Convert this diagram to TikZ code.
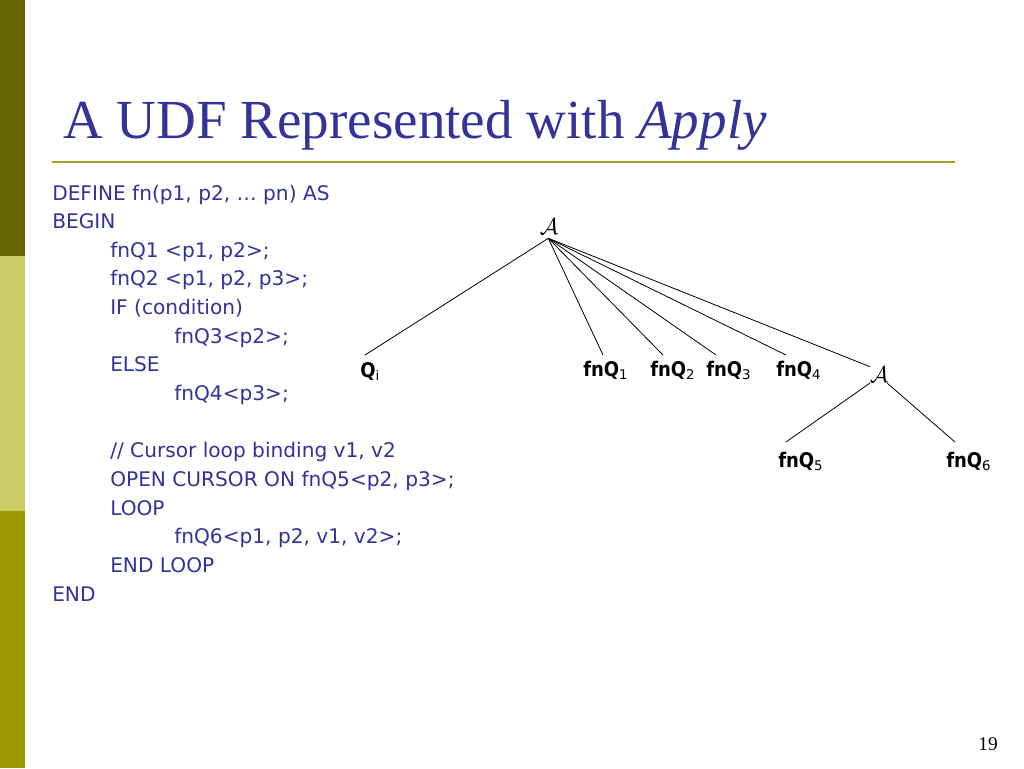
\documentclass[tikz,border=0pt]{standalone}
\usepackage{fontspec}
\usepackage{graphicx}
\setmainfont{Liberation Serif}
\newfontfamily\bodyfont{DejaVu Sans}
\definecolor{bartop}{HTML}{666600}
\definecolor{barmid}{HTML}{CCCC66}
\definecolor{barbot}{HTML}{999900}
\definecolor{rulecol}{HTML}{A0A030}
\definecolor{textblue}{HTML}{333399}
\newcommand{\lsub}[1]{\raisebox{-2.5pt}{\fontsize{10}{12}\selectfont\mdseries #1}}
\newcommand{\labtext}[1]{\scalebox{1}[1.12]{#1}}
\tikzset{
  codeline/.style={anchor=base west, inner sep=0pt, text=textblue, font=\bodyfont\fontsize{15.1}{18}\selectfont},
  lab/.style={anchor=base west, inner sep=0pt, font=\bodyfont\bfseries\fontsize{13.5}{16}\selectfont},
  applynode/.style={inner sep=0pt, font=\fontsize{17}{19}\selectfont},
  edge/.style={draw=black, line width=0.6pt},
}
\begin{document}
\begin{tikzpicture}[x=0.75pt,y=-0.75pt]
\useasboundingbox (0,0) rectangle (1024,768);
\fill[white] (0,0) rectangle (1024,768);
% side bar
\fill[bartop] (0,0) rectangle (25,256);
\fill[barmid] (0,256) rectangle (25,511);
\fill[barbot] (0,511) rectangle (25,768);
% title
\node[anchor=base west, inner sep=0pt, text=textblue, font=\fontsize{41.3}{48}\selectfont] (title) at (63,138) {A UDF Represented with \textit{Apply}};
\draw[rulecol, line width=1.5pt] (52,162) -- (955,162);
% code
\node[codeline] (l0) at (52,200) {DEFINE fn(p1, p2, … pn) AS};
\node[codeline] (l1) at (52,228.6) {BEGIN};
\node[codeline] (l2) at (110,257.3) {fnQ1 <p1, p2>;};
\node[codeline] (l3) at (110,285.9) {fnQ2 <p1, p2, p3>;};
\node[codeline] (l4) at (110,314.6) {IF (condition)};
\node[codeline] (l5) at (174,343.2) {fnQ3<p2>;};
\node[codeline] (l6) at (110,371.8) {ELSE};
\node[codeline] (l7) at (174,400.5) {fnQ4<p3>;};
\node[codeline] (l9) at (110,457.8) {// Cursor loop binding v1, v2};
\node[codeline] (l10) at (110,486.4) {OPEN CURSOR ON fnQ5<p2, p3>;};
\node[codeline] (l11) at (110,515) {LOOP};
\node[codeline] (l12) at (174,543.7) {fnQ6<p1, p2, v1, v2>;};
\node[codeline] (l13) at (110,572.3) {END LOOP};
\node[codeline] (l14) at (52,601) {END};
% tree
\node[applynode, anchor=south, inner ysep=2.5pt] (A1) at (549,238.3) {$\mathcal{A}$};
\node[applynode] (A2) at (879,374.5) {$\mathcal{A}$};
\node[lab] (qi) at (360,377) {\labtext{Q}\lsub{i}};
\node[lab] (f1) at (583,376) {\labtext{fnQ}\lsub{1}};
\node[lab] (f2) at (650,376) {\labtext{fnQ}\lsub{2}};
\node[lab] (f3) at (706,376) {\labtext{fnQ}\lsub{3}};
\node[lab] (f4) at (776,376) {\labtext{fnQ}\lsub{4}};
\node[lab] (f5) at (778,467) {\labtext{fnQ}\lsub{5}};
\node[lab] (f6) at (946,467) {\labtext{fnQ}\lsub{6}};
\coordinate (qiT) at (365,355);
\coordinate (f1T) at (603,355);
\coordinate (f2T) at (663,355);
\coordinate (f3T) at (716,355);
\coordinate (f4T) at (786,355);
\coordinate (A2in) at (870,366.7);
\coordinate (A2l) at (870,383);
\coordinate (A2r) at (887,383);
\coordinate (f5T) at (786,442);
\coordinate (f6T) at (955,442);
\coordinate (A1out) at (548.3,238.3);
\draw[edge] (A1out) -- (qiT);
\draw[edge] (A1out) -- (f1T);
\draw[edge] (A1out) -- (f2T);
\draw[edge] (A1out) -- (f3T);
\draw[edge] (A1out) -- (f4T);
\draw[edge] (A1out) -- (A2in);
\draw[edge] (A2l) -- (f5T);
\draw[edge] (A2r) -- (f6T);
% page number
\node[anchor=base east, inner sep=0pt, font=\fontsize{14.5}{16}\selectfont] (pnum) at (998,750) {19};
\end{tikzpicture}
\end{document}
